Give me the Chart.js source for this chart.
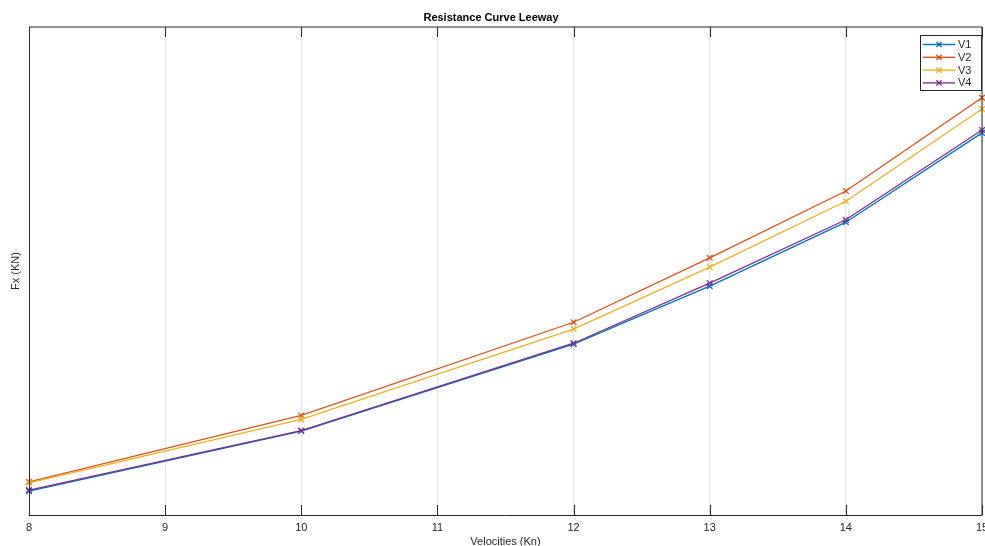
<!DOCTYPE html>
<html>
<head>
<meta charset="utf-8">
<script src="https://cdn.jsdelivr.net/npm/chart.js@4/dist/chart.umd.min.js"></script>
<style>
html,body{margin:0;padding:0;background:#fff;}
#wrap{width:985px;height:546px;}
</style>
</head>
<body>
<div id="wrap"><canvas id="c" width="985" height="546"></canvas></div>
<script>
const velocities = [8, 10, 12, 13, 14, 15];
const xTicks = [8, 9, 10, 11, 12, 13, 14, 15];
const seriesNames = ['V1', 'V2', 'V3', 'V4'];
const V1 = [4.9, 17.2, 35.0, 46.9, 60.0, 78.3];
const V2 = [6.8, 20.4, 39.5, 52.7, 66.4, 85.5];
const V3 = [6.6, 19.6, 38.1, 50.8, 64.3, 83.2];
const V4 = [5.1, 17.3, 35.2, 47.5, 60.5, 78.9];
const seriesColors = ['#0072BD', '#D95319', '#EDB120', '#7E2F8E'];

const allSeries = [V1, V2, V3, V4];
const FONT = '"Liberation Sans", Arial, Helvetica, sans-serif';
const AX = '#262626';

const datasets = allSeries.map((vals, i) => ({
  label: seriesNames[i],
  data: velocities.map((v, j) => ({x: v, y: vals[j]})),
  borderColor: seriesColors[i],
  backgroundColor: seriesColors[i],
  borderWidth: 1.3,
  pointStyle: 'crossRot',
  pointRadius: 4,
  pointBorderWidth: 1.3,
  pointHoverRadius: 4,
  fill: false,
  tension: 0,
  clip: 6,
  order: allSeries.length - i
}));

const boxPlugin = {
  id: 'boxPlugin',
  afterDatasetsDraw(chart) {
    const {ctx, chartArea: a, scales: {x}} = chart;
    ctx.save();
    ctx.strokeStyle = AX;
    ctx.lineWidth = 1;
    xTicks.forEach(t => {
      const px = Math.round(x.getPixelForValue(t)) + 0.5;
      ctx.beginPath();
      ctx.moveTo(px, a.bottom); ctx.lineTo(px, a.bottom - 10);
      ctx.moveTo(px, a.top); ctx.lineTo(px, a.top + 10);
      ctx.stroke();
    });
    ctx.strokeStyle = AX;
    ctx.beginPath();
    ctx.moveTo(a.left, a.top); ctx.lineTo(a.right, a.top);
    ctx.moveTo(a.right, a.top); ctx.lineTo(a.right, a.bottom);
    ctx.stroke();
    ctx.beginPath();
    ctx.moveTo(a.left - 0.5, a.bottom + 0.5); ctx.lineTo(a.right, a.bottom + 0.5);
    ctx.moveTo(a.left + 0.5, a.top); ctx.lineTo(a.left + 0.5, a.bottom + 0.5);
    ctx.stroke();

    // legend
    const lx = a.right - 62, ly = a.top + 8, lw = 62, lh = 56;
    ctx.fillStyle = '#fff';
    ctx.fillRect(lx, ly, lw, lh);
    ctx.strokeStyle = AX;
    ctx.lineWidth = 1;
    ctx.strokeRect(lx + 0.5, ly + 0.5, lw - 1, lh - 1);
    ctx.font = '11px ' + FONT;
    ctx.textBaseline = 'middle';
    seriesNames.forEach((name, i) => {
      const yy = ly + 9.5 + i * 12.8;
      ctx.strokeStyle = seriesColors[i];
      ctx.lineWidth = 1.4;
      ctx.beginPath();
      ctx.moveTo(lx + 3, yy); ctx.lineTo(lx + 35, yy);
      ctx.stroke();
      const cx = lx + 19, r = 2.6;
      ctx.beginPath();
      ctx.moveTo(cx - r, yy - r); ctx.lineTo(cx + r, yy + r);
      ctx.moveTo(cx - r, yy + r); ctx.lineTo(cx + r, yy - r);
      ctx.stroke();
      ctx.fillStyle = AX;
      ctx.fillText(name, lx + 38, yy + 0.5);
    });
    ctx.restore();
  }
};

new Chart(document.getElementById('c'), {
  type: 'line',
  data: {datasets},
  options: {
    responsive: false,
    animation: false,
    events: [],
    layout: {autoPadding: false, padding: {left: 0, right: 3, top: 0, bottom: 0}},
    plugins: {
      legend: {display: false},
      tooltip: {enabled: false},
      title: {
        display: true,
        text: 'Resistance Curve Leeway',
        color: '#000',
        font: {family: FONT, size: 11, weight: 'bold'},
        padding: {top: 11, bottom: 2.8}
      }
    },
    scales: {
      x: {
        type: 'linear',
        min: 8, max: 15,
        afterBuildTicks(scale) { scale.ticks = xTicks.map(v => ({value: v})); },
        afterFit(scale) {
          scale.height = 31;
          scale.paddingLeft = 0;
          scale.paddingRight = 0;
        },
        ticks: {
          color: AX,
          font: {family: FONT, size: 11},
          padding: 6,
          maxRotation: 0,
          autoSkip: false
        },
        grid: {color: '#e3e3e3', lineWidth: 1, drawTicks: false},
        border: {display: false},
        title: {
          display: true,
          text: 'Velocities (Kn)',
          color: AX,
          font: {family: FONT, size: 11},
          padding: {top: 0, bottom: -3}
        }
      },
      y: {
        type: 'linear',
        min: 0, max: 100,
        afterFit(scale) { scale.width = 29; },
        ticks: {display: false},
        grid: {display: false},
        border: {display: false},
        title: {
          display: true,
          text: 'Fx (KN)',
          color: AX,
          font: {family: FONT, size: 11},
          padding: {top: 9, bottom: 0}
        }
      }
    }
  },
  plugins: [boxPlugin]
});
</script>
</body>
</html>
